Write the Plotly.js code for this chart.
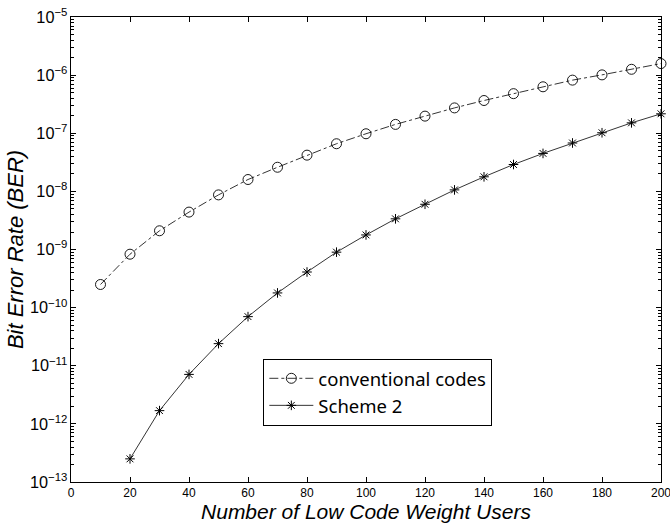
<!DOCTYPE html>
<html>
<head>
<meta charset="utf-8">
<script src="https://cdn.plot.ly/plotly-3.0.1.min.js"></script>
<style>html,body{margin:0;padding:0;background:#fff;}#chart{width:670px;height:525px;}</style>
</head>
<body>
<div id="chart"></div>
<script>
const convUsers = [10,20,30,40,50,60,70,80,90,100,110,120,130,140,150,160,170,180,190,200];
const convBER = [2.5e-10,8.3e-10,2.1e-9,4.4e-9,8.7e-9,1.6e-8,2.6e-8,4.2e-8,6.6e-8,9.8e-8,1.42e-7,1.97e-7,2.73e-7,3.66e-7,4.8e-7,6.3e-7,8.2e-7,1.01e-6,1.26e-6,1.58e-6];
const schemeUsers = [20,30,40,50,60,70,80,90,100,110,120,130,140,150,160,170,180,190,200];
const schemeBER = [2.5e-13,1.69e-12,7.1e-12,2.4e-11,7.0e-11,1.79e-10,4.1e-10,9.0e-10,1.78e-9,3.37e-9,6.0e-9,1.06e-8,1.78e-8,2.9e-8,4.5e-8,6.8e-8,1.02e-7,1.51e-7,2.16e-7];
const xTickVals = [0,20,40,60,80,100,120,140,160,180,200];
const xTickText = ['0','20','40','60','80','100','120','140','160','180','200'];
const seriesNames = ['conventional codes','Scheme 2'];
const xTitle = 'Number of Low Code Weight Users';
const yTitle = 'Bit Error Rate (BER)';

const traces = [
  {x: convUsers, y: convBER, name: seriesNames[0], mode: 'lines+markers', type: 'scatter',
   line: {color: '#000', width: 0.8, dash: 'dashdot'},
   marker: {symbol: 'circle-open', size: 10, color: '#000', line: {width: 0.9, color: '#000'}},
   cliponaxis: false},
  {x: schemeUsers, y: schemeBER, name: seriesNames[1], mode: 'lines+markers', type: 'scatter',
   line: {color: '#000', width: 0.8},
   marker: {symbol: 'asterisk-open', size: 8, color: '#000', line: {width: 1, color: '#000'}},
   cliponaxis: false}
];

const layout = {
  width: 670, height: 525,
  margin: {l: 71, r: 9, t: 17, b: 43},
  paper_bgcolor: '#fff', plot_bgcolor: '#fff',
  font: {family: 'Liberation Sans, Arial, sans-serif', color: '#000', size: 12},
  showlegend: true,
  legend: {x: 0.326, y: 0.265, xanchor: 'left', yanchor: 'top',
    bordercolor: '#000', borderwidth: 1, bgcolor: '#fff',
    font: {family: 'Noto Sans, sans-serif', size: 18.5, color: '#000'},
    tracegroupgap: 0, itemwidth: 44},
  xaxis: {
    range: [0, 200], tickmode: 'array', tickvals: xTickVals, ticktext: xTickText,
    ticklabeloverflow: 'allow',
    showgrid: false, zeroline: false,
    showline: true, linecolor: '#000', linewidth: 1, mirror: 'ticks',
    ticks: 'inside', ticklen: 5, tickcolor: '#000',
    tickfont: {size: 12},
    title: {text: xTitle, font: {size: 21, family: 'Liberation Sans, Arial, sans-serif', style: 'italic'}, standoff: 4}
  },
  yaxis: {
    type: 'log', range: [-13, -5], dtick: 1,
    exponentformat: 'power',
    showgrid: false, zeroline: false,
    showline: true, linecolor: '#000', linewidth: 1, mirror: 'ticks',
    ticks: 'inside', ticklen: 5, tickcolor: '#000',
    tickfont: {size: 13},
    minor: {ticks: 'inside', ticklen: 3, tickcolor: '#000', dtick: 'D1', showgrid: false},
    title: {text: yTitle, font: {size: 22, family: 'Liberation Sans, Arial, sans-serif', style: 'italic'}, standoff: 0}
  }
};

Plotly.newPlot('chart', traces, layout, {displayModeBar: false, staticPlot: true});
</script>
</body>
</html>
